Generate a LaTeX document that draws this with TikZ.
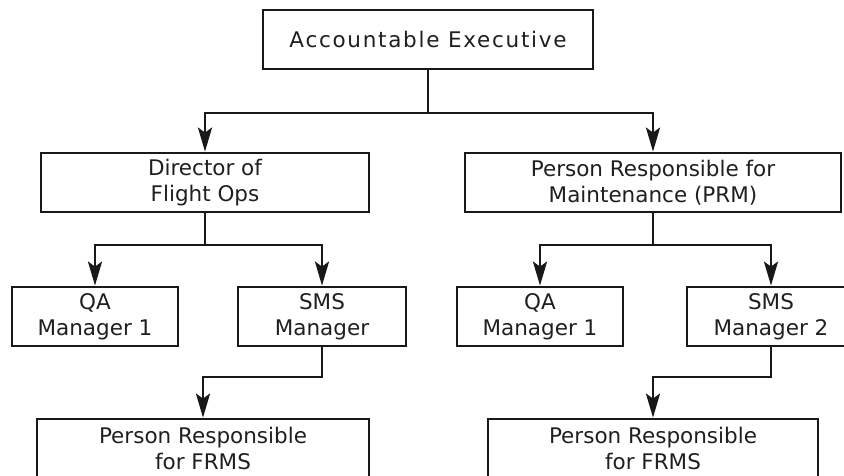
\documentclass[tikz,border=0pt]{standalone}
\usepackage{fontspec}
\setmainfont{DejaVu Sans}
\usetikzlibrary{arrows.meta}

\begin{document}
\begin{tikzpicture}[x=1pt,y=-1pt,
    box/.style={draw=black!90,line width=2.8pt,inner sep=0pt,align=center,
      minimum height=59pt,text=black!88,font=\fontsize{21.5}{25.5}\selectfont},
    link/.style={draw=black!90,line width=2.8pt},
    tip/.style={link,-{Stealth[length=24pt,width=14pt,inset=5pt]}}]
    \useasboundingbox (0,0) rectangle (844,475);
    \clip (0,0) rectangle (844,475);
    % boxes
    \node[box,minimum width=330pt] (ae) at (428,39.5)
      {\addfontfeature{LetterSpace=8}Accountable Executive};
    \node[box,minimum width=328pt] (dfo) at (205,182.5) {Director of\\Flight Ops};
    \node[box,minimum width=376pt] (prm) at (653,182.5)
      {Person Responsible for\\Maintenance (PRM)};
    \node[box,minimum width=166pt] (qaa) at (95,316.5) {QA\\Manager 1};
    \node[box,minimum width=168pt] (smsa) at (322,316.5) {SMS\\Manager};
    \node[box,minimum width=166pt] (qab) at (540,316.5) {QA\\Manager 1};
    \node[box,minimum width=168pt] (smsb) at (771,316.5) {SMS\\Manager 2};
    \node[box,minimum width=332pt] (frmsa) at (203,448.5)
      {Person Responsible\\for FRMS};
    \node[box,minimum width=330pt] (frmsb) at (653,448.5)
      {Person Responsible\\for FRMS};
    % branch points
    \coordinate (j0) at (428,113);
    \coordinate (j1) at (205,245);
    \coordinate (j2) at (653,245);
    \coordinate (j3) at (322,377);
    \coordinate (j4) at (771,377);
    % connectors
    \draw[link] (ae.south) -- (j0);
    \draw[tip] (j0) -| (dfo.north);
    \draw[tip] (j0) -| (prm.north);
    \draw[link] (dfo.south) -- (j1);
    \draw[tip] (j1) -| (qaa.north);
    \draw[tip] (j1) -| (smsa.north);
    \draw[link] (prm.south) -- (j2);
    \draw[tip] (j2) -| (qab.north);
    \draw[tip] (j2) -| (smsb.north);
    \draw[tip] (smsa.south) -- (j3) -| (frmsa.north);
    \draw[tip] (smsb.south) -- (j4) -| (frmsb.north);
\end{tikzpicture}
\end{document}
